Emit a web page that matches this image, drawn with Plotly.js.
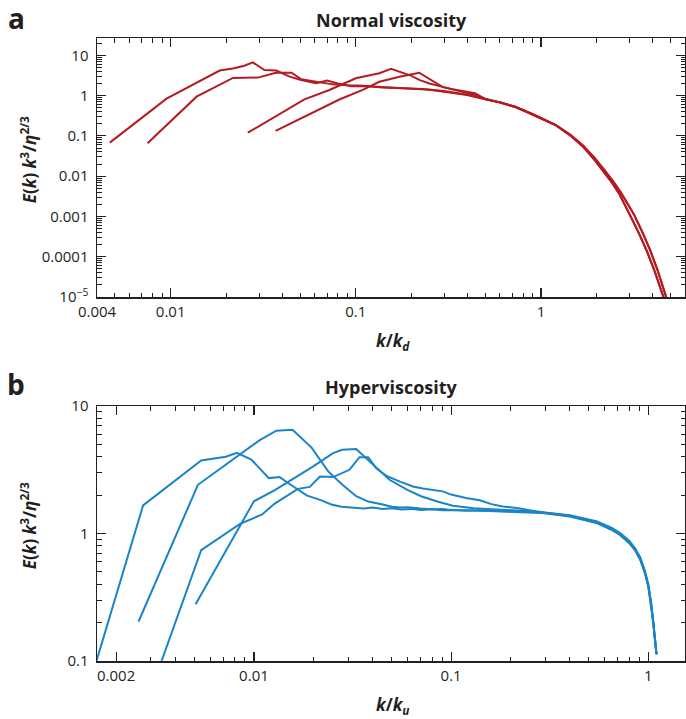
<!DOCTYPE html>
<html><head><meta charset="utf-8">
<script src="https://cdn.plot.ly/plotly-3.0.1.min.js"></script>
<style>body{margin:0;background:#fff}#chart{width:686px;height:719px}</style>
</head><body><div id="chart"></div>
<script>
// ---------- Panel a: Normal viscosity (k/k_d, E(k) k^3/eta^(2/3)) ----------
const aX1 = [0.00469, 0.0095, 0.0184, 0.0217, 0.025, 0.0278, 0.0321, 0.0372, 0.0439, 0.0507, 0.061, 0.07, 0.08, 0.095, 0.11, 0.13, 0.16, 0.2, 0.25, 0.3, 0.4, 0.5, 0.6, 0.73, 0.9, 1.2, 1.45, 1.7, 1.95, 2.14, 2.4, 2.64, 2.85, 3.05, 3.4, 3.75, 4.1, 4.4, 4.62];
const aY1 = [0.068, 0.84, 4.2, 4.7, 5.5, 6.7, 4.3, 4.2, 2.96, 2.45, 2.03, 2.35, 2.0, 1.7, 1.72, 1.65, 1.6, 1.5, 1.4, 1.25, 1.03, 0.81, 0.67, 0.515, 0.34, 0.184, 0.1, 0.052, 0.025, 0.0144, 0.0072, 0.0037, 0.0019, 0.001, 3.6e-4, 1.3e-4, 4.5e-5, 1.8e-5, 9e-6];
const aX2 = [0.0075, 0.0138, 0.0217, 0.0296, 0.037, 0.045, 0.0507, 0.056, 0.0636, 0.075, 0.09, 0.11, 0.14, 0.18, 0.23, 0.3, 0.4, 0.5, 0.6, 0.73, 0.9, 1.2, 1.45, 1.7, 1.95, 2.2, 2.45, 2.7, 2.95, 3.2, 3.55, 3.9, 4.25, 4.55, 4.78];
const aY2 = [0.066, 0.94, 2.75, 2.8, 3.7, 3.7, 2.55, 2.36, 2.2, 1.9, 1.8, 1.75, 1.6, 1.55, 1.45, 1.3, 1.05, 0.82, 0.68, 0.52, 0.345, 0.186, 0.104, 0.055, 0.028, 0.0144, 0.0075, 0.0039, 0.002, 0.00105, 3.8e-4, 1.4e-4, 4.8e-5, 1.9e-5, 9e-6];
const aX3 = [0.0261, 0.042, 0.0528, 0.072, 0.084, 0.1, 0.134, 0.155, 0.2, 0.22, 0.25, 0.295, 0.35, 0.44, 0.5, 0.6, 0.73, 0.9, 1.2, 1.45, 1.7, 1.95, 2.14, 2.4, 2.64, 2.85, 3.05, 3.4, 3.75, 4.1, 4.4, 4.62];
const aY3 = [0.12, 0.44, 0.81, 1.38, 1.85, 2.7, 3.6, 4.6, 3.1, 2.45, 2.0, 1.62, 1.35, 1.04, 0.82, 0.68, 0.52, 0.345, 0.186, 0.101, 0.053, 0.0255, 0.0146, 0.0073, 0.0038, 0.00195, 0.00102, 3.7e-4, 1.33e-4, 4.6e-5, 1.85e-5, 9.2e-6];
const aX4 = [0.0369, 0.0624, 0.0815, 0.109, 0.134, 0.17, 0.22, 0.295, 0.333, 0.44, 0.5, 0.6, 0.73, 0.9, 1.2, 1.45, 1.7, 1.95, 2.2, 2.45, 2.7, 2.95, 3.2, 3.55, 3.9, 4.25, 4.55, 4.78];
const aY4 = [0.133, 0.44, 0.8, 1.39, 2.2, 2.9, 3.7, 1.62, 1.44, 1.15, 0.83, 0.685, 0.525, 0.35, 0.188, 0.105, 0.056, 0.0285, 0.0146, 0.0076, 0.004, 0.00204, 0.00107, 3.9e-4, 1.43e-4, 4.9e-5, 1.95e-5, 9.2e-6];

// ---------- Panel b: Hyperviscosity (k/k_u) ----------
const bX1 = [0.00159, 0.00274, 0.0054, 0.0072, 0.0082, 0.0097, 0.0119, 0.0135, 0.0149, 0.0185, 0.022, 0.0247, 0.0278, 0.032, 0.036, 0.04, 0.045, 0.05, 0.056, 0.063, 0.07, 0.08, 0.09, 0.1, 0.12, 0.14, 0.17, 0.2, 0.24, 0.29, 0.4, 0.545, 0.65, 0.72, 0.8, 0.86, 0.91, 0.96, 1.0, 1.035, 1.06, 1.08, 1.1];
const bY1 = [0.1, 1.66, 3.74, 4.0, 4.3, 3.8, 2.72, 2.77, 2.49, 1.99, 1.82, 1.69, 1.62, 1.6, 1.57, 1.6, 1.56, 1.58, 1.54, 1.56, 1.53, 1.55, 1.52, 1.53, 1.51, 1.52, 1.5, 1.49, 1.48, 1.46, 1.37, 1.22, 1.08, 0.98, 0.85, 0.74, 0.63, 0.5, 0.39, 0.28, 0.2, 0.15, 0.113];
const bX2 = [0.0026, 0.0052, 0.0107, 0.013, 0.0157, 0.0196, 0.0238, 0.0281, 0.033, 0.038, 0.045, 0.05, 0.055, 0.06, 0.07, 0.08, 0.09, 0.1, 0.12, 0.15, 0.2, 0.24, 0.29, 0.4, 0.545, 0.65, 0.72, 0.8, 0.86, 0.91, 0.96, 1.0, 1.035, 1.06, 1.08, 1.1];
const bY2 = [0.204, 2.41, 5.4, 6.4, 6.5, 4.72, 3.07, 2.41, 1.96, 1.78, 1.69, 1.62, 1.6, 1.61, 1.57, 1.55, 1.56, 1.53, 1.52, 1.5, 1.48, 1.47, 1.45, 1.36, 1.21, 1.07, 0.97, 0.84, 0.73, 0.62, 0.49, 0.38, 0.27, 0.2, 0.15, 0.113];
const bX3 = [0.0034, 0.0054, 0.0085, 0.011, 0.0127, 0.0146, 0.0167, 0.0192, 0.0216, 0.0252, 0.028, 0.0305, 0.0343, 0.038, 0.0416, 0.0468, 0.055, 0.064, 0.0718, 0.08, 0.0907, 0.1, 0.119, 0.14, 0.16, 0.183, 0.22, 0.25, 0.29, 0.4, 0.545, 0.65, 0.72, 0.8, 0.86, 0.91, 0.96, 1.0, 1.035, 1.06, 1.08, 1.1];
const bY3 = [0.1, 0.74, 1.19, 1.41, 1.71, 1.97, 2.24, 2.32, 2.8, 2.77, 3.0, 3.16, 3.97, 3.97, 3.26, 2.84, 2.55, 2.34, 2.25, 2.2, 2.14, 2.02, 1.9, 1.82, 1.7, 1.63, 1.58, 1.52, 1.47, 1.39, 1.25, 1.11, 1.01, 0.88, 0.76, 0.65, 0.51, 0.4, 0.28, 0.2, 0.15, 0.113];
const bX4 = [0.00506, 0.0073, 0.01, 0.0127, 0.016, 0.0199, 0.0252, 0.028, 0.033, 0.038, 0.0487, 0.06, 0.0704, 0.085, 0.102, 0.13, 0.183, 0.24, 0.29, 0.4, 0.545, 0.65, 0.72, 0.8, 0.86, 0.91, 0.96, 1.0, 1.035, 1.06, 1.08, 1.1];
const bY4 = [0.279, 0.75, 1.79, 2.18, 2.7, 3.35, 4.27, 4.53, 4.59, 3.75, 2.64, 2.2, 1.96, 1.78, 1.65, 1.58, 1.54, 1.5, 1.46, 1.38, 1.23, 1.09, 0.99, 0.86, 0.75, 0.64, 0.5, 0.39, 0.28, 0.2, 0.15, 0.113];

// ---------- Tick labels ----------
const aXTickVals = [0.004, 0.01, 0.1, 1];
const aXTickText = ['0.004', '0.01', '0.1', '1'];
const aYTickVals = [1e-5, 1e-4, 1e-3, 0.01, 0.1, 1, 10];
const aYTickText = ['10<sup>\u22125</sup>', '0.0001', '0.001', '0.01', '0.1', '1', '10'];
const bXTickVals = [0.002, 0.01, 0.1, 1];
const bXTickText = ['0.002', '0.01', '0.1', '1'];
const bYTickVals = [0.1, 1, 10];
const bYTickText = ['0.1', '1', '10'];

const RED = '#b41b22';
const BLUE = '#1a84c6';
const INK = '#231f20';
const FONT = 'Open Sans, Noto Sans, sans-serif';

function minorVals(lo, hi) {
  const v = [];
  for (let e = lo; e <= hi; e++) for (let m = 2; m <= 9; m++) v.push(m * Math.pow(10, e));
  return v;
}

function line(x, y, color, xa, ya) {
  return {x: x, y: y, type: 'scatter', mode: 'lines', xaxis: xa, yaxis: ya,
          line: {color: color, width: 2}, hoverinfo: 'skip', showlegend: false};
}

const data = [
  line(aX1, aY1, RED, 'x', 'y'), line(aX2, aY2, RED, 'x', 'y'),
  line(aX3, aY3, RED, 'x', 'y'), line(aX4, aY4, RED, 'x', 'y'),
  line(bX1, bY1, BLUE, 'x2', 'y2'), line(bX2, bY2, BLUE, 'x2', 'y2'),
  line(bX3, bY3, BLUE, 'x2', 'y2'), line(bX4, bY4, BLUE, 'x2', 'y2')
];

function axis(extra, minorLo, minorHi) {
  return Object.assign({
    type: 'log', tickmode: 'array', ticks: 'inside', ticklen: 9, tickwidth: 1.2, tickcolor: INK,
    showline: true, linecolor: INK, linewidth: 1.5, mirror: 'allticks',
    showgrid: false, zeroline: false, fixedrange: true,
    tickfont: {family: FONT, size: 15, color: INK},
    minor: {tickmode: 'array', tickvals: minorVals(minorLo, minorHi), ticks: 'inside',
            ticklen: 4.5, tickwidth: 1, tickcolor: INK, showgrid: false}
  }, extra);
}

const H = 719;
const layout = {
  width: 686, height: 719,
  margin: {l: 97, r: 1, t: 0, b: 0},
  paper_bgcolor: '#fff', plot_bgcolor: '#fff',
  font: {family: FONT, color: INK},
  xaxis: axis({anchor: 'y', domain: [0, 1], range: [Math.log10(0.004), Math.log10(6.0)],
               tickvals: aXTickVals, ticktext: aXTickText}, -3, 0),
  yaxis: axis({anchor: 'x', domain: [(H - 297) / H, (H - 38) / H], range: [-5, 1.43],
               tickvals: aYTickVals, ticktext: aYTickText, ticklabelstandoff: 4}, -5, 1),
  xaxis2: axis({anchor: 'y2', domain: [0, 1], range: [Math.log10(0.0016), 0.186],
                tickvals: bXTickVals, ticktext: bXTickText}, -3, 0),
  yaxis2: axis({anchor: 'x2', domain: [(H - 661) / H, (H - 406) / H], range: [-1, 1],
                tickvals: bYTickVals, ticktext: bYTickText, ticklabelstandoff: 4}, -1, 0),
  annotations: [
    {text: '<b>a</b>', xref: 'paper', yref: 'paper', x: -0.137, y: (H - 18) / H, showarrow: false,
     xanchor: 'center', yanchor: 'middle', font: {family: FONT, size: 28, color: INK}},
    {text: '<b>b</b>', xref: 'paper', yref: 'paper', x: -0.137, y: (H - 384) / H, showarrow: false,
     xanchor: 'center', yanchor: 'middle', font: {family: FONT, size: 28, color: INK}},
    {text: '<b>Normal viscosity</b>', xref: 'paper', yref: 'paper', x: 0.5, y: (H - 20) / H, showarrow: false,
     xanchor: 'center', yanchor: 'middle', font: {family: FONT, size: 18, color: INK}},
    {text: '<b>Hyperviscosity</b>', xref: 'paper', yref: 'paper', x: 0.5, y: (H - 387) / H, showarrow: false,
     xanchor: 'center', yanchor: 'middle', font: {family: FONT, size: 18, color: INK}},
    {text: '<b><i>E</i>(<i>k</i>) <i>k</i><sup>3</sup>/<i>η</i><sup>2/3</sup></b>', xref: 'paper', yref: 'paper',
     x: -0.117, y: (H - 160) / H, textangle: -90, showarrow: false, xanchor: 'center', yanchor: 'middle',
     font: {family: FONT, size: 17, color: INK}},
    {text: '<b><i>E</i>(<i>k</i>) <i>k</i><sup>3</sup>/<i>η</i><sup>2/3</sup></b>', xref: 'paper', yref: 'paper',
     x: -0.117, y: (H - 526) / H, textangle: -90, showarrow: false, xanchor: 'center', yanchor: 'middle',
     font: {family: FONT, size: 17, color: INK}},
    {text: '<b><i>k</i>/<i>k</i><sub><i>d</i></sub></b>', xref: 'paper', yref: 'paper', x: 0.503, y: (H - 341) / H,
     showarrow: false, xanchor: 'center', yanchor: 'middle', font: {family: FONT, size: 17, color: INK}},
    {text: '<b><i>k</i>/<i>k</i><sub><i>u</i></sub></b>', xref: 'paper', yref: 'paper', x: 0.503, y: (H - 705) / H,
     showarrow: false, xanchor: 'center', yanchor: 'middle', font: {family: FONT, size: 17, color: INK}}
  ]
};

Plotly.newPlot('chart', data, layout, {staticPlot: true, displayModeBar: false});
</script>
</body></html>
